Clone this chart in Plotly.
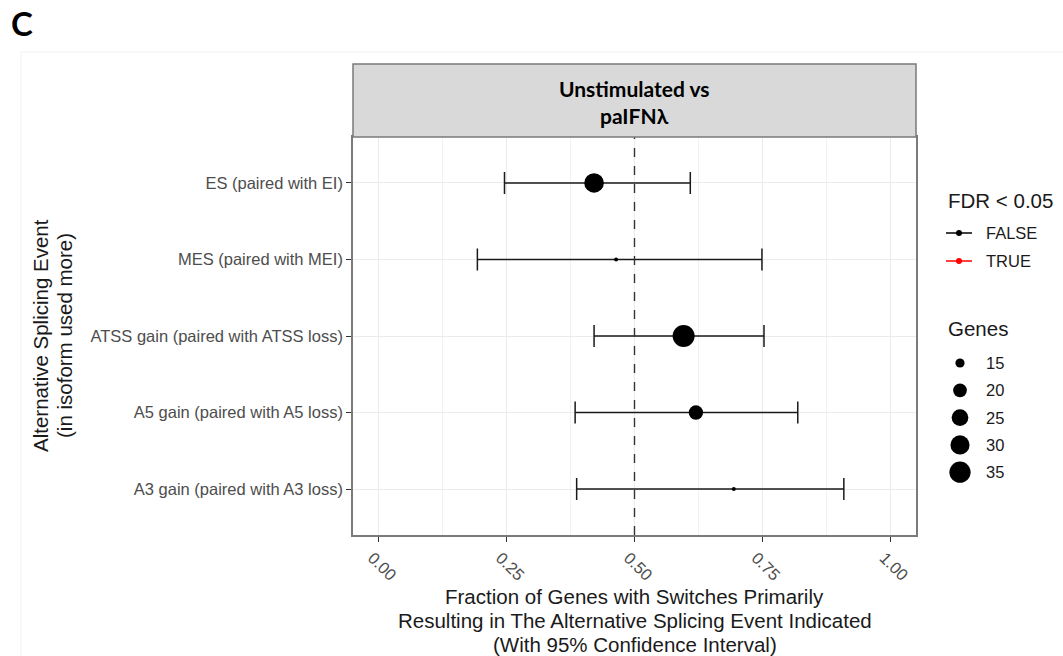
import plotly.graph_objects as go

# Splicing event categories (top to bottom)
events = [
    "ES (paired with EI)",
    "MES (paired with MEI)",
    "ATSS gain (paired with ATSS loss)",
    "A5 gain (paired with A5 loss)",
    "A3 gain (paired with A3 loss)",
]
# Fraction of genes with switches and 95% confidence interval
fraction = [0.421, 0.464, 0.596, 0.620, 0.694]
ci_low = [0.246, 0.193, 0.421, 0.384, 0.387]
ci_high = [0.609, 0.749, 0.753, 0.819, 0.909]
# Number of genes behind each estimate
genes = [31, 13, 37, 21, 13]
# FDR < 0.05 flag
significant = [False, False, False, False, False]

size_breaks = [15, 20, 25, 30, 35]
x_ticks = [0.0, 0.25, 0.5, 0.75, 1.0]
x_ticklabels = ["0.00", "0.25", "0.50", "0.75", "1.00"]
strip_lines = ["Unstimulated vs", "paIFNλ"]
x_title_lines = [
    "Fraction of Genes with Switches Primarily",
    "Resulting in The Alternative Splicing Event Indicated",
    "(With 95% Confidence Interval)",
]
y_title_lines = ["Alternative Splicing Event", "(in isoform used more)"]

W, H = 1063, 656
GMIN, GMAX = min(genes), max(genes)


def diam(g):
    # area-style size scale: smallest count -> 4 px, largest -> 22 px
    t = max(0.0, min(1.0, (g - GMIN) / (GMAX - GMIN)))
    return 4 + 18 * t ** 0.5


def px(x):
    return x / W


def py(y):
    return 1 - y / H


PANEL_L, PANEL_R, PANEL_T, PANEL_B = 353, 916, 137, 535
STRIP_T = 64
LEG_L = 925
AXIS_FONT = "Liberation Sans, Arial, sans-serif"
TITLE_FONT = "Lato, Open Sans, sans-serif"
TEXT_SIZE = 16.5
TITLE_SIZE = 20.5

fig = go.Figure()

colors = ["#FF0000" if s else "#000000" for s in significant]
fig.add_trace(go.Scatter(
    x=fraction,
    y=events,
    mode="markers",
    marker=dict(size=[diam(g) for g in genes], color=colors, opacity=1,
                line=dict(width=0)),
    error_x=dict(
        type="data",
        symmetric=False,
        array=[h - f for h, f in zip(ci_high, fraction)],
        arrayminus=[f - l for f, l in zip(fraction, ci_low)],
        color="#1a1a1a",
        thickness=1.5,
        width=11,
    ),
    showlegend=False,
    hoverinfo="skip",
))

# Reference line at 0.5
fig.add_shape(type="line", xref="x", yref="y domain", x0=0.5, x1=0.5, y0=0, y1=1,
              line=dict(color="#333333", width=1.4, dash="dash"), layer="above")

# Facet strip
fig.add_shape(type="rect", xref="paper", yref="paper",
              x0=px(PANEL_L), x1=px(PANEL_R), y0=py(PANEL_T), y1=py(STRIP_T),
              fillcolor="#D9D9D9", line=dict(color="#7a7a7a", width=1.5), layer="above")
for i, line in enumerate(strip_lines):
    fig.add_annotation(text="<b>%s</b>" % line, xref="paper", yref="paper",
                       x=px((PANEL_L + PANEL_R) / 2), y=py(88 + 27 * i),
                       xanchor="center", yanchor="middle", showarrow=False,
                       font=dict(family=TITLE_FONT, size=21, color="#000000"))

# Outer faint frame
fig.add_shape(type="rect", xref="paper", yref="paper",
              x0=px(21), x1=px(W + 5), y0=py(H + 5), y1=py(52),
              line=dict(color="#F2F2F2", width=1), layer="below")

# Panel label
fig.add_annotation(text="<b>C</b>", xref="paper", yref="paper", x=px(9), y=py(23),
                   xanchor="left", yanchor="middle", showarrow=False,
                   font=dict(family=TITLE_FONT, size=33, color="#000000"))

# Axis titles
for i, line in enumerate(x_title_lines):
    fig.add_annotation(text=line, xref="paper", yref="paper",
                       x=px((PANEL_L + PANEL_R) / 2), y=py(596 + 24 * i),
                       xanchor="center", yanchor="middle", showarrow=False,
                       font=dict(family=AXIS_FONT, size=TITLE_SIZE, color="#1a1a1a"))
for i, line in enumerate(y_title_lines):
    fig.add_annotation(text=line, xref="paper", yref="paper",
                       x=px(40 + 24 * i), y=py((PANEL_T + PANEL_B) / 2),
                       xanchor="center", yanchor="middle", textangle=-90, showarrow=False,
                       font=dict(family=AXIS_FONT, size=TITLE_SIZE, color="#1a1a1a"))

# Legend: FDR < 0.05
LEG_X = 946
fig.add_annotation(text="FDR < 0.05", xref="paper", yref="paper", x=px(LEG_X), y=py(200),
                   xanchor="left", yanchor="middle", showarrow=False,
                   font=dict(family=AXIS_FONT, size=TITLE_SIZE, color="#1a1a1a"))
for i, (lab, col) in enumerate([("FALSE", "#000000"), ("TRUE", "#FF0000")]):
    yy = 233 + 28 * i
    fig.add_trace(go.Scatter(x=[946, 972], y=[yy, yy], xaxis="x2", yaxis="y2",
                             mode="lines", line=dict(color=col, width=1.5),
                             showlegend=False, hoverinfo="skip"))
    fig.add_trace(go.Scatter(x=[959], y=[yy], xaxis="x2", yaxis="y2", mode="markers",
                             marker=dict(size=6, color=col), showlegend=False, hoverinfo="skip"))
    fig.add_annotation(text=lab, xref="paper", yref="paper", x=px(984), y=py(yy),
                       xanchor="left", yanchor="middle", showarrow=False,
                       font=dict(family=AXIS_FONT, size=TEXT_SIZE, color="#1a1a1a"))

# Legend: Genes
fig.add_annotation(text="Genes", xref="paper", yref="paper", x=px(LEG_X), y=py(329),
                   xanchor="left", yanchor="middle", showarrow=False,
                   font=dict(family=AXIS_FONT, size=TITLE_SIZE, color="#1a1a1a"))
for i, b in enumerate(size_breaks):
    yy = 363 + 27.3 * i
    fig.add_trace(go.Scatter(x=[960], y=[yy], xaxis="x2", yaxis="y2", mode="markers",
                             marker=dict(size=diam(b), color="#000000", line=dict(width=0)),
                             showlegend=False, hoverinfo="skip"))
    fig.add_annotation(text=str(b), xref="paper", yref="paper", x=px(984), y=py(yy),
                       xanchor="left", yanchor="middle", showarrow=False,
                       font=dict(family=AXIS_FONT, size=TEXT_SIZE, color="#1a1a1a"))

fig.update_layout(
    width=W, height=H,
    margin=dict(l=0, r=0, t=0, b=0),
    paper_bgcolor="#FFFFFF",
    plot_bgcolor="rgba(0,0,0,0)",
    xaxis=dict(
        domain=[px(PANEL_L), px(PANEL_R)],
        range=[-0.05, 1.05],
        tickvals=x_ticks, ticktext=x_ticklabels, tickangle=45,
        tickfont=dict(family=AXIS_FONT, size=TEXT_SIZE, color="#4d4d4d"),
        ticklabelshift=-6,
        ticks="outside", ticklen=5, tickcolor="#333333", tickwidth=1.2,
        showgrid=True, gridcolor="#EBEBEB", gridwidth=1.2,
        minor=dict(tickvals=[0.125, 0.375, 0.625, 0.875], showgrid=True,
                   gridcolor="#F2F2F2", gridwidth=0.8, ticks=""),
        showline=True, linecolor="#7a7a7a", linewidth=1.5, mirror=True,
        zeroline=False, fixedrange=True,
    ),
    yaxis=dict(
        domain=[py(PANEL_B), py(PANEL_T)],
        type="category", categoryorder="array", categoryarray=events,
        range=[len(events) - 0.4, -0.6],
        tickfont=dict(family=AXIS_FONT, size=TEXT_SIZE, color="#4d4d4d"),
        ticks="outside", ticklen=5, tickcolor="#333333", tickwidth=1.2,
        showgrid=True, gridcolor="#EBEBEB", gridwidth=1.2,
        showline=True, linecolor="#7a7a7a", linewidth=1.5, mirror=True,
        zeroline=False, fixedrange=True,
    ),
    xaxis2=dict(domain=[px(LEG_L), 1], range=[LEG_L, W], visible=False,
                anchor="y2", fixedrange=True),
    yaxis2=dict(domain=[0, 1], range=[H, 0], visible=False, anchor="x2", fixedrange=True),
)

fig.write_html("out.html")
